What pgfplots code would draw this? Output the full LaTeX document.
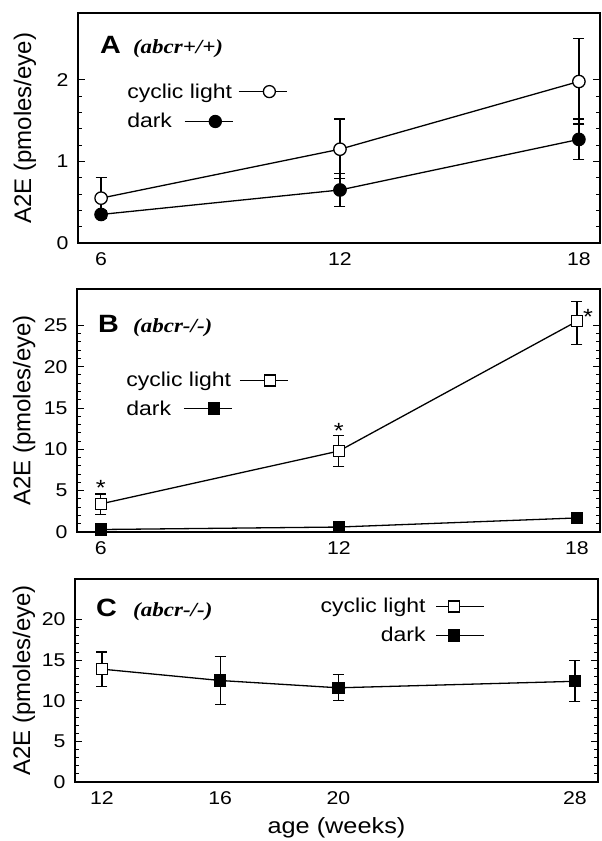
\documentclass[border=0pt]{standalone}
\usepackage{fontspec}
\setmainfont{Liberation Sans}[FakeStretch=1.15]
\newfontfamily\ylfont{Liberation Sans}
\newfontfamily\gfont{Liberation Serif}[FakeStretch=1.15]
\usepackage{pgfplots}
\pgfplotsset{compat=1.18}

\tikzset{
  opencirc/.style={circle, draw=black, line width=1.3pt, fill=white, inner sep=0pt, minimum size=12pt},
  fillcirc/.style={circle, draw=black, line width=1.3pt, fill=black, inner sep=0pt, minimum size=12pt},
  opensq/.style={rectangle, draw=black, line width=1.3pt, fill=white, inner sep=0pt, minimum size=11pt},
  fillsq/.style={rectangle, draw=black, line width=1.3pt, fill=black, inner sep=0pt, minimum size=11pt},
}
\newcommand{\legsym}[1]{\tikz[baseline={(0pt,-6.5pt)}]{\draw[line width=1.3pt] (0pt,0pt)--(48pt,0pt); \node[#1] at (24pt,0pt) {};}}
\newcommand{\tfont}{\fontsize{18.5}{20}\selectfont}
\newcommand{\lfont}{\fontsize{20}{22}\selectfont}

\pgfplotsset{
  panel/.style={
    scale only axis,
    clip=false,
    axis line style={line width=1.5pt},
    tick align=inside,
    ytick pos=both,
    xtick pos=bottom,
    major tick length=7pt,
    minor tick length=4pt,
    every tick/.style={line width=1pt, black},
    xtick style={draw=none},
    minor y tick num=4,
    ticklabel style={font=\tfont},
    yticklabel style={xshift=-6pt},
    xticklabel style={yshift=-6pt},
    /pgf/number format/assume math mode=true,
    ylabel={A2E (pmoles/eye)},
    ylabel style={font=\ylfont\fontsize{24}{24}\selectfont, anchor=center},
  },
  ln/.style={black, line width=1.3pt, no marks},
  eb/.style={error bars/.cd, y dir=both, y explicit,
    error bar style={line width=1.2pt, black},
    error mark=-,
    error mark options={rotate=90, black, mark size=5.5pt, line width=1.2pt}},
  cmark/.style={only marks, mark=*, mark size=6.2pt, mark options={fill=white, draw=black, line width=1.3pt}},
  dmark/.style={only marks, mark=*, mark size=6.2pt, mark options={fill=black, draw=black, line width=1.3pt}},
  csq/.style={only marks, mark=square*, mark size=5.5pt, mark options={fill=white, draw=black, line width=1.3pt}},
  dsq/.style={only marks, mark=square*, mark size=5.5pt, mark options={fill=black, draw=black, line width=1.3pt}},
}

\begin{document}
\begin{tikzpicture}
\useasboundingbox (0pt,0pt) rectangle (602pt,841pt);

% ---------------- Panel A ----------------
\begin{axis}[panel,
  at={(78pt,598pt)}, anchor=south west,
  width=522pt, height=230pt,
  xmin=5.42, xmax=18.53, ymin=0, ymax=2.82,
  xtick={6,12,18}, ytick={0,1,2},
  ylabel style={at={(axis description cs:-0.1015,0.5)}},
]
\addplot[ln, eb] coordinates {
  (6,0.55) += (0,0.25) -= (0,0.25)
  (12,1.15) += (0,0.37) -= (0,0.36)
  (18,1.98) += (0,0.53) -= (0,0.52)
};
\addplot[ln, eb] coordinates {
  (6,0.35) += (0,0.05) -= (0,0.05)
  (12,0.65) += (0,0.2) -= (0,0.2)
  (18,1.27) += (0,0.25) -= (0,0.25)
};
\addplot[cmark] coordinates {(6,0.55) (12,1.15) (18,1.98)};
\addplot[dmark] coordinates {(6,0.35) (12,0.65) (18,1.27)};
\node[anchor=base west, inner sep=0pt, font=\fontsize{25}{25}\selectfont\bfseries] at (rel axis cs:0.042,0.826) {A};
\node[anchor=base west, inner sep=0pt, font=\gfont\fontsize{20}{20}\selectfont\bfseries\itshape] at (rel axis cs:0.105,0.826) {(abcr+/+)};
\node[anchor=base west, inner sep=0pt, font=\lfont] at (rel axis cs:0.094,0.630) {cyclic light\hspace{6pt}\legsym{opencirc}};
\node[anchor=base west, inner sep=0pt, font=\lfont] at (rel axis cs:0.094,0.500) {dark\hspace{12pt}\legsym{fillcirc}};
\end{axis}

% ---------------- Panel B ----------------
\begin{axis}[panel,
  at={(77pt,309pt)}, anchor=south west,
  width=523pt, height=243pt,
  xmin=5.4, xmax=18.58, ymin=0, ymax=29.4,
  xtick={6,12,18}, ytick={0,5,10,15,20,25},
  ylabel style={at={(axis description cs:-0.101,0.5)}},
]
\addplot[ln, eb] coordinates {
  (6,3.4) += (0,1.2) -= (0,1.3)
  (12,9.8) += (0,1.85) -= (0,1.85)
  (18,25.5) += (0,2.4) -= (0,2.8)
};
\addplot[ln] coordinates {(6,0.3) (12,0.6) (18,1.7)};
\addplot[csq] coordinates {(6,3.4) (12,9.8) (18,25.5)};
\addplot[dsq] coordinates {(6,0.3) (12,0.6) (18,1.7)};
\node[anchor=base, yshift=-12pt, font=\fontsize{22}{22}\selectfont] at (axis cs:6,5.9) {*};
\node[anchor=base, yshift=-12pt, font=\fontsize{22}{22}\selectfont] at (axis cs:12,12.8) {*};
\node[anchor=base, yshift=-12pt, font=\fontsize{22}{22}\selectfont] at (axis cs:18.28,26.6) {*};
\node[anchor=base west, inner sep=0pt, font=\fontsize{25}{25}\selectfont\bfseries] at (rel axis cs:0.040,0.819) {B};
\node[anchor=base west, inner sep=0pt, font=\gfont\fontsize{20}{20}\selectfont\bfseries\itshape] at (rel axis cs:0.107,0.819) {(abcr-/-)};
\node[anchor=base west, inner sep=0pt, font=\lfont] at (rel axis cs:0.094,0.597) {cyclic light\hspace{8pt}\legsym{opensq}};
\node[anchor=base west, inner sep=0pt, font=\lfont] at (rel axis cs:0.094,0.481) {dark\hspace{12pt}\legsym{fillsq}};
\end{axis}

% ---------------- Panel C ----------------
\begin{axis}[panel,
  at={(75pt,59pt)}, anchor=south west,
  width=523pt, height=203pt,
  xmin=11.09, xmax=28.78, ymin=0, ymax=25,
  xtick={12,16,20,28}, ytick={0,5,10,15,20},
  ylabel style={at={(axis description cs:-0.0975,0.5)}},
  xlabel={age (weeks)},
  xlabel style={font=\fontsize{22}{22}\selectfont, at={(axis description cs:0.5,-0.227)}, anchor=center},
]
\addplot[ln, eb] coordinates {
  (12,13.9) += (0,2.1) -= (0,2.1)
  (16,12.5) += (0,3.0) -= (0,3.0)
  (20,11.6) += (0,1.6) -= (0,1.6)
  (28,12.4) += (0,2.6) -= (0,2.5)
};
\addplot[csq] coordinates {(12,13.9)};
\addplot[dsq] coordinates {(16,12.5) (20,11.6) (28,12.4)};
\node[anchor=base west, inner sep=0pt, font=\fontsize{25}{25}\selectfont\bfseries] at (rel axis cs:0.040,0.813) {C};
\node[anchor=base west, inner sep=0pt, font=\gfont\fontsize{20}{20}\selectfont\bfseries\itshape] at (rel axis cs:0.111,0.813) {(abcr-/-)};
\node[anchor=base east, inner sep=0pt, font=\lfont] at (rel axis cs:0.784,0.833) {cyclic light\hspace{10pt}\legsym{opensq}};
\node[anchor=base east, inner sep=0pt, font=\lfont] at (rel axis cs:0.784,0.690) {dark\hspace{10pt}\legsym{fillsq}};
\end{axis}
\end{tikzpicture}
\end{document}
